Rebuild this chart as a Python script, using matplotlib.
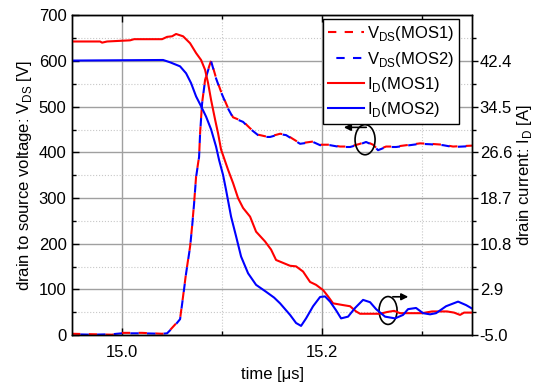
import matplotlib
matplotlib.use('Agg')
import matplotlib.pyplot as plt
from matplotlib.patches import Ellipse
from matplotlib.ticker import MultipleLocator, FixedLocator

plt.rcParams['font.family'] = ['Liberation Sans', 'DejaVu Sans']
plt.rcParams['mathtext.fontset'] = 'custom'
plt.rcParams['mathtext.rm'] = 'Liberation Sans'

# V_DS of both devices [V]
t_vds = [14.95, 14.97, 14.99, 15.00, 15.02, 15.04, 15.045, 15.05, 15.055, 15.058,
         15.061, 15.064, 15.068, 15.070, 15.072, 15.074, 15.077, 15.078, 15.080, 15.083,
         15.087, 15.089, 15.094, 15.099, 15.106, 15.111, 15.121, 15.128, 15.136, 15.144,
         15.148, 15.158, 15.164, 15.178, 15.191, 15.198, 15.208, 15.218, 15.228, 15.238,
         15.244, 15.251, 15.256, 15.264, 15.274, 15.288, 15.298, 15.308, 15.321, 15.331, 15.35]
vds_mos1 = [3, 2, 1, 5, 5, 3, 4, 16, 28, 36,
            85, 136, 194, 238, 289, 347, 391, 442, 508, 559,
            588, 601, 563, 533, 497, 477, 468, 453, 439, 435,
            435, 441, 439, 420, 424, 417, 417, 413, 413, 419,
            424, 417, 406, 413, 413, 417, 420, 419, 417, 413, 415]
vds_mos2 = [2, 1, 2, 4, 4, 3, 4, 15, 27, 35,
            84, 135, 193, 237, 288, 346, 390, 441, 507, 558,
            587, 600, 562, 532, 496, 476, 467, 452, 438, 434,
            434, 440, 438, 419, 423, 416, 416, 412, 412, 418,
            423, 416, 405, 412, 412, 416, 419, 418, 416, 412, 414]

# I_D of MOS1 [A]
t_id1 = [14.95, 14.978, 14.98, 14.985, 15.008, 15.012, 15.040, 15.045, 15.050, 15.054,
         15.061, 15.068, 15.074, 15.079, 15.083, 15.086, 15.089, 15.093, 15.096, 15.099,
         15.106, 15.111, 15.116, 15.121, 15.128, 15.134, 15.143, 15.149, 15.154, 15.161,
         15.168, 15.174, 15.181, 15.188, 15.194, 15.201, 15.206, 15.211, 15.221, 15.228,
         15.234, 15.238, 15.258, 15.265, 15.272, 15.278, 15.30, 15.31, 15.325, 15.332,
         15.338, 15.342, 15.35]
id_mos1 = [45.8, 45.8, 45.6, 45.8, 46.0, 46.2, 46.2, 46.6, 46.7, 47.1,
           46.7, 45.5, 43.8, 42.6, 40.9, 38.6, 35.7, 32.3, 29.9, 27.1,
           23.6, 21.3, 18.7, 17.0, 15.5, 12.9, 11.2, 9.8, 8.0, 7.5,
           7.0, 6.9, 6.0, 4.2, 3.7, 2.8, 1.7, 0.5, 0.2, 0.0,
           -0.9, -1.3, -1.3, -1.0, -0.8, -1.2, -1.2, -0.9, -0.9, -1.1,
           -1.5, -1.1, -1.1]

# I_D of MOS2 [A]
t_id2 = [14.95, 15.041, 15.048, 15.058, 15.064, 15.069, 15.074, 15.079, 15.084, 15.089,
         15.094, 15.097, 15.101, 15.104, 15.109, 15.114, 15.119, 15.126, 15.134, 15.144,
         15.152, 15.158, 15.168, 15.174, 15.179, 15.184, 15.191, 15.198, 15.203, 15.208,
         15.214, 15.219, 15.226, 15.233, 15.241, 15.248, 15.254, 15.263, 15.273, 15.281,
         15.286, 15.294, 15.301, 15.308, 15.314, 15.324, 15.336, 15.344, 15.35]
id_mos2 = [42.5, 42.6, 42.2, 41.5, 40.3, 38.6, 36.3, 34.6, 32.8, 30.6,
           27.6, 25.3, 22.7, 20.1, 15.5, 12.1, 8.6, 5.7, 3.7, 2.5,
           1.5, 0.5, -1.5, -2.9, -3.4, -2.1, 0.0, 1.6, 1.7, 0.8,
           -0.7, -2.1, -1.8, -0.3, 1.1, 0.7, -0.5, -1.8, -2.1, -1.5,
           -0.5, -0.3, -1.2, -1.4, -1.2, 0.0, 0.8, 0.2, -0.4]

right_ticks = [-5.0, 2.9, 10.8, 18.7, 26.6, 34.5, 42.4]

fs = 12
fig = plt.figure(figsize=(5.34, 3.87), dpi=100)
ax = fig.add_axes([0.135, 0.134, 0.749, 0.826])
ax2 = ax.twinx()

lw = 1.5
l1, = ax.plot(t_vds, vds_mos1, color='red', lw=lw, ls=(0, (4, 4)))
l2, = ax.plot(t_vds, vds_mos2, color='blue', lw=lw, ls=(4, (4, 4)))
l3, = ax2.plot(t_id1, id_mos1, color='red', lw=lw)
l4, = ax2.plot(t_id2, id_mos2, color='blue', lw=lw)

ax.set_xlim(14.95, 15.35)
ax.set_ylim(0, 700)
ax2.set_ylim(-5.0, -5.0 + 7 * 7.9)

ax.xaxis.set_major_locator(FixedLocator([15.0, 15.2]))
ax.xaxis.set_minor_locator(FixedLocator([15.1, 15.3]))
ax.set_xticklabels(['15.0', '15.2'])
ax.yaxis.set_major_locator(MultipleLocator(100))
ax.yaxis.set_minor_locator(MultipleLocator(50))
ax2.yaxis.set_major_locator(FixedLocator(right_ticks))
ax2.yaxis.set_minor_locator(FixedLocator([v + 3.95 for v in right_ticks]))
ax2.set_yticklabels(['%.1f' % v for v in right_ticks])

ax.grid(True, which='major', color='#a0a0a0', lw=1.0, ls='-')
ax.grid(True, which='minor', color='#c8c8c8', lw=0.8, ls=':')
ax.set_axisbelow(True)

ax.tick_params(which='both', direction='in', top=True, right=False, labelsize=fs)
ax.tick_params(which='major', length=5, width=1)
ax.tick_params(which='minor', length=3, width=1)
ax.tick_params(axis='y', pad=4)
ax.tick_params(axis='x', pad=7)
ax2.tick_params(which='both', direction='out', labelsize=fs, pad=1.5)
ax2.tick_params(which='major', length=4, width=1)
ax2.tick_params(which='minor', length=3, width=1)

for a in (ax, ax2):
    for s in a.spines.values():
        s.set_linewidth(1.0)

ax.set_xlabel('time [\u03bcs]', fontsize=fs, labelpad=5)
ax.set_ylabel('drain to source voltage: V$_\\mathregular{DS}$ [V]', fontsize=fs, labelpad=3)
ax2.set_ylabel('drain current: I$_\\mathregular{D}$ [A]', fontsize=fs, labelpad=2)

# markers showing which axis each curve belongs to
ax.add_patch(Ellipse((15.243, 428), 0.020, 66, fill=False, ec='black', lw=1.2, zorder=5))
ax.annotate('', xy=(15.219, 455), xytext=(15.247, 455),
            arrowprops=dict(arrowstyle='-|>', color='black', lw=1.2, mutation_scale=10))
ax.add_patch(Ellipse((15.266, 54), 0.018, 61, fill=False, ec='black', lw=1.2, zorder=5))
ax.annotate('', xy=(15.289, 84), xytext=(15.268, 84),
            arrowprops=dict(arrowstyle='-|>', color='black', lw=1.2, mutation_scale=10))

leg = ax2.legend([l1, l2, l3, l4],
                 ['V$_\\mathregular{DS}$(MOS1)', 'V$_\\mathregular{DS}$(MOS2)',
                  'I$_\\mathregular{D}$(MOS1)', 'I$_\\mathregular{D}$(MOS2)'],
                 loc='upper right', bbox_to_anchor=(0.967, 0.988), fontsize=fs,
                 fancybox=False, edgecolor='black', framealpha=1,
                 handlelength=2.2, borderpad=0.3, labelspacing=0.38,
                 handletextpad=0.15, borderaxespad=0.0)
leg.get_frame().set_linewidth(1.0)

fig.savefig('out.png', dpi=100)
